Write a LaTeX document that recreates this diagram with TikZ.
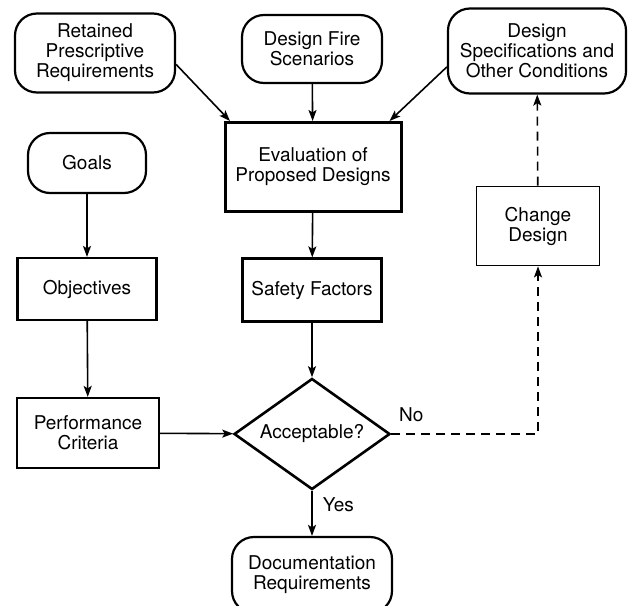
\documentclass[tikz,border=0pt]{standalone}
\usepackage{fontspec}
\setmainfont{TeX Gyre Heros}
\usetikzlibrary{arrows.meta,shapes.geometric,positioning}

\begin{document}
\begin{tikzpicture}[x=1pt,y=-1pt]

\tikzset{box/.style={
  rectangle,
  inner sep=0pt,
  align=center,
  draw=black, fill=white,
  line width=2.2pt,
  font=\fontsize{19}{20}\selectfont
  },
  term/.style={box, rounded corners=22pt},
  flow/.style={draw, ->, line width=1.6pt},
  >={Stealth[length=11pt,width=8pt,inset=2.5pt]}
}

\clip (0,0) rectangle (628,605);

\node[term, minimum width=160pt, minimum height=79pt] (retained) at (95,53) {Retained\\Prescriptive\\Requirements};
\node[term, minimum width=140pt, minimum height=68pt] (fire) at (312,49) {Design Fire\\Scenarios};
\node[term, minimum width=178pt, minimum height=85pt] (spec) at (537,51) {Design\\Specifications and\\Other Conditions};

\node[term, minimum width=118pt, minimum height=60pt] (goals) at (87,163) {Goals};
\node[box, minimum width=176pt, minimum height=89pt, line width=3pt] (eval) at (313,167) {Evaluation of\\Proposed Designs};
\node[box, minimum width=123pt, minimum height=79pt, line width=1.8pt] (change) at (538,226) {Change\\Design};

\node[box, minimum width=139pt, minimum height=62pt] (obj) at (87,289) {Objectives};
\node[box, minimum width=139pt, minimum height=63pt] (safety) at (312,290) {Safety Factors};

\node[box, minimum width=142pt, minimum height=70pt] (perf) at (88,433) {Performance\\Criteria};
\node[box, shape=diamond, aspect=1.4, minimum width=156pt, minimum height=111pt, line width=2.6pt] (accept) at (312,434) {Acceptable?};

\node[term, minimum width=160pt, minimum height=76pt] (doc) at (312,575) {Documentation\\Requirements};

%% solid connectors
\path[flow] (retained.-8.5) -- (eval.151);
\path[flow] (fire) -- (eval);
\path[flow] (spec.190) -- (eval.31);
\path[flow] (goals) -- (obj);
\path[flow] (obj) -- (perf);
\path[flow] (eval) -- (safety);
\path[flow] (safety) -- (accept);
\path[flow] (perf) -- (accept);
\path[flow] (accept) -- node[pos=0.31, right=8pt, inner sep=2pt, font=\fontsize{19}{20}\selectfont] {Yes} (doc);

%% dashed loop back
\path[flow, dash pattern=on 9pt off 6pt] (accept.east) -| node[pos=0.017, anchor=south west, yshift=9pt, inner sep=2pt, font=\fontsize{19}{20}\selectfont] {No} (change.south);
\path[flow, dash pattern=on 9pt off 6pt] (change) -- (spec);
\end{tikzpicture}
\end{document}
